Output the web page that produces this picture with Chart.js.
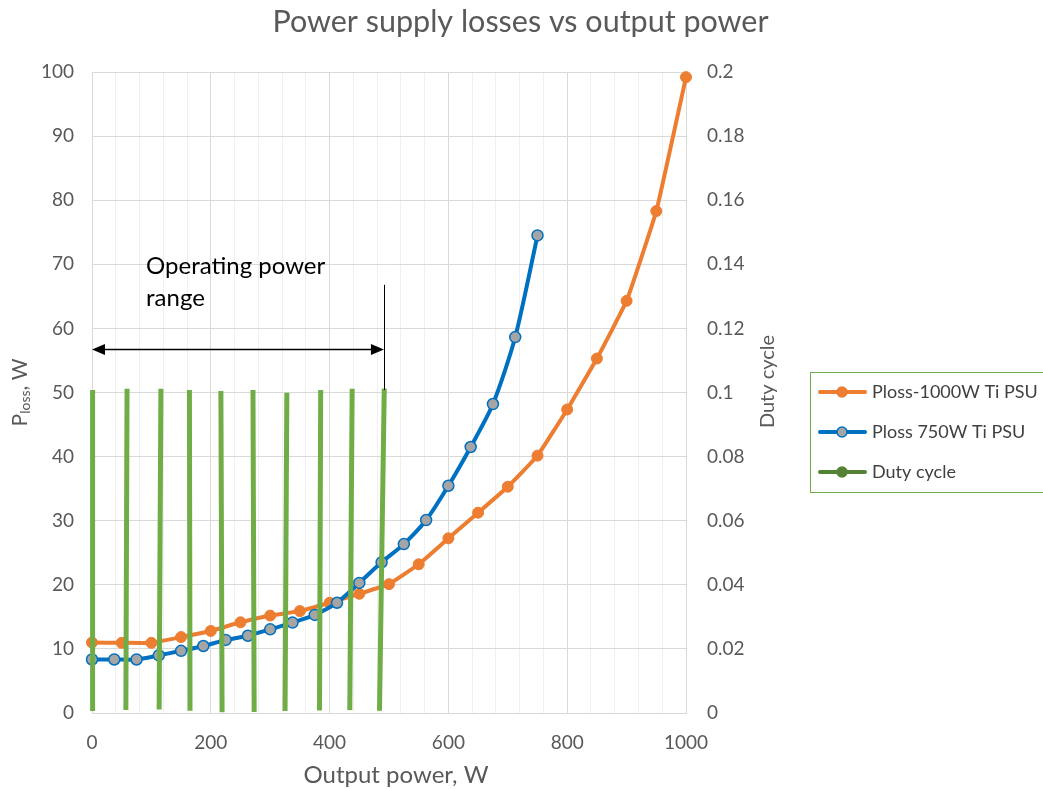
<!DOCTYPE html>
<html>
<head>
<meta charset="utf-8">
<script src="https://cdn.jsdelivr.net/npm/chart.js@4/dist/chart.umd.min.js"></script>
<style>
html,body{margin:0;padding:0;background:#fff;}
canvas{display:block;}
</style>
</head>
<body>
<canvas id="c" width="1043" height="789"></canvas>
<script>
// ---- data ----
const titleText = 'Power supply losses vs output power';
const xTitle = 'Output power, W';
const y2Title = 'Duty cycle';
const seriesNames = ['Ploss-1000W Ti PSU', 'Ploss 750W Ti PSU', 'Duty cycle'];

const psu1000X = [0, 50, 100, 150, 200, 250, 300, 350, 400, 450, 500, 550, 600, 650, 700, 750, 800, 850, 900, 950, 1000];
const psu1000Loss = [11.0, 10.95, 10.95, 11.85, 12.8, 14.15, 15.2, 15.9, 17.2, 18.6, 20.1, 23.2, 27.25, 31.25, 35.3, 40.15, 47.35, 55.3, 64.3, 78.3, 99.2];

const psu750X = [0, 37.5, 75, 112.5, 150, 187.5, 225, 262.5, 300, 337.5, 375, 412.5, 450, 487.5, 525, 562.5, 600, 637.5, 675, 712.5, 750];
const psu750Loss = [8.35, 8.35, 8.35, 9.0, 9.7, 10.45, 11.4, 12.05, 13.05, 14.1, 15.3, 17.2, 20.3, 23.5, 26.35, 30.1, 35.45, 41.5, 48.2, 58.65, 74.5];

const dutyBottomX = [1, 57, 113, 165, 219, 273, 325, 383, 434, 484];
const dutyTopX    = [1, 59, 116, 164, 217, 271, 328, 385, 438, 492];
const dutyBottom  = [0.0006, 0.0009, 0.0011, 0.0007, 0.0002, 0.0003, 0.0006, 0.0008, 0.0009, 0.0007];
const dutyTop     = [0.1008, 0.1012, 0.1012, 0.1008, 0.1005, 0.1008, 0.0999, 0.1008, 0.1012, 0.1012];

const xTicksLabeled = [0, 200, 400, 600, 800, 1000];

// annotation (data units)
const rangeStart = 0, rangeEnd = 491.5, arrowY = 56.8, markerTop = 66.8, markerBottom = 50.4;
const noteLines = ['Operating power', 'range'];
const noteX = 91, noteY = [69.7, 64.7];

// ---- build datasets ----
const FONT = 'Lato, "Open Sans", sans-serif';
const orange = '#ED7D31', blue = '#0070C0', green = '#70AD47';

const d1000 = psu1000X.map((x, i) => ({x, y: psu1000Loss[i]}));
const d750 = psu750X.map((x, i) => ({x, y: psu750Loss[i]}));
const dDuty = [];
dutyTopX.forEach((x, i) => {
  dDuty.push({x: dutyBottomX[i], y: dutyBottom[i]});
  dDuty.push({x: x, y: dutyTop[i]});
  dDuty.push({x: x, y: null});
});

const legendStyles = {
  [seriesNames[0]]: {line: orange, fill: orange, border: orange},
  [seriesNames[1]]: {line: blue, fill: '#A5A5A5', border: blue},
  [seriesNames[2]]: {line: '#548235', fill: '#548235', border: '#548235'}
};

const overlay = {
  id: 'overlay',
  afterDraw(chart) {
    const ctx = chart.ctx, xs = chart.scales.x, ys = chart.scales.y, area = chart.chartArea;
    ctx.save();
    // title
    ctx.fillStyle = '#595959';
    ctx.font = '30.5px ' + FONT; ctx.textAlign = 'center'; ctx.textBaseline = 'middle';
    ctx.fillText(titleText, chart.width / 2 - 1, 22);

    // x axis title
    ctx.font = '24px ' + FONT;
    ctx.fillText(xTitle, (area.left + area.right) / 2 + 7, 775);

    // annotation arrow
    const ax0 = xs.getPixelForValue(rangeStart), ax1 = xs.getPixelForValue(rangeEnd), ay = Math.round(ys.getPixelForValue(arrowY)) + 0.5;
    ctx.strokeStyle = '#000'; ctx.fillStyle = '#000'; ctx.lineWidth = 1.5;
    ctx.beginPath(); ctx.moveTo(ax0 + 10, ay); ctx.lineTo(ax1 - 10, ay); ctx.stroke();
    ctx.beginPath(); ctx.moveTo(ax0, ay); ctx.lineTo(ax0 + 13, ay - 5.5); ctx.lineTo(ax0 + 13, ay + 5.5); ctx.closePath(); ctx.fill();
    ctx.beginPath(); ctx.moveTo(ax1, ay); ctx.lineTo(ax1 - 13, ay - 5.5); ctx.lineTo(ax1 - 13, ay + 5.5); ctx.closePath(); ctx.fill();
    // vertical marker
    ctx.lineWidth = 1;
    const vx = Math.round(ax1) + 0.5;
    ctx.beginPath(); ctx.moveTo(vx, ys.getPixelForValue(markerTop)); ctx.lineTo(vx, ys.getPixelForValue(markerBottom)); ctx.stroke();
    // note text
    ctx.font = '24px ' + FONT; ctx.textAlign = 'left'; ctx.textBaseline = 'middle'; ctx.fillStyle = '#000';
    noteLines.forEach((t, i) => ctx.fillText(t, xs.getPixelForValue(noteX), ys.getPixelForValue(noteY[i])));

    // left axis title with subscript
    ctx.fillStyle = '#595959';
    ctx.translate(20, (area.top + area.bottom) / 2);
    ctx.rotate(-Math.PI / 2);
    ctx.textBaseline = 'middle';
    const big = '21px ' + FONT, small = '14px ' + FONT;
    ctx.font = big; const wP = ctx.measureText('P').width, wT = ctx.measureText(', W').width;
    ctx.font = small; const wS = ctx.measureText('loss').width;
    let sx = -(wP + wS + wT) / 2;
    ctx.textAlign = 'left';
    ctx.font = big; ctx.fillText('P', sx, 0); sx += wP;
    ctx.font = small; ctx.fillText('loss', sx, 5); sx += wS;
    ctx.font = big; ctx.fillText(', W', sx, 0);
    ctx.setTransform(1, 0, 0, 1, 0, 0);

    // right axis title
    ctx.translate(768, (area.top + area.bottom) / 2 - 11);
    ctx.rotate(-Math.PI / 2);
    ctx.font = '20px ' + FONT; ctx.textAlign = 'center';
    ctx.fillText(y2Title, 0, 0);
    ctx.setTransform(1, 0, 0, 1, 0, 0);

    // legend
    const lx = 810.5, ly = 372.5, lw = 260, lh = 120;
    ctx.strokeStyle = green; ctx.lineWidth = 1;
    ctx.strokeRect(lx, ly, lw, lh);
    seriesNames.forEach((name, i) => {
      const y = 392 + i * 40;
      const c = legendStyles[name];
      ctx.strokeStyle = c.line; ctx.lineWidth = 4; ctx.lineCap = 'round';
      ctx.beginPath(); ctx.moveTo(820, y); ctx.lineTo(865, y); ctx.stroke();
      ctx.beginPath(); ctx.arc(842, y, 5, 0, Math.PI * 2);
      ctx.fillStyle = c.fill; ctx.fill();
      ctx.lineWidth = 1.5; ctx.strokeStyle = c.border; ctx.stroke();
      ctx.fillStyle = '#404040'; ctx.font = '18px ' + FONT; ctx.textAlign = 'left'; ctx.textBaseline = 'middle';
      ctx.fillText(name, 872, y);
    });
    ctx.restore();
  }
};

new Chart(document.getElementById('c'), {
  type: 'line',
  data: {
    datasets: [
      {label: seriesNames[2], data: dDuty, yAxisID: 'y2', borderColor: green, borderWidth: 5, pointRadius: 0, spanGaps: false, order: 0, borderCapStyle: 'butt', clip: false},
      {label: seriesNames[1], data: d750, yAxisID: 'y', borderColor: blue, borderWidth: 4, pointRadius: 5.5, pointBackgroundColor: '#A5A5A5', pointBorderColor: blue, pointBorderWidth: 1.5, tension: 0.25, order: 1, clip: false},
      {label: seriesNames[0], data: d1000, yAxisID: 'y', borderColor: orange, borderWidth: 4, pointRadius: 5.5, pointBackgroundColor: orange, pointBorderColor: orange, pointBorderWidth: 1, tension: 0.1, order: 2, clip: false}
    ]
  },
  options: {
    responsive: false,
    animation: false,
    events: [],
    layout: {padding: {left: 0, right: 257, top: 72, bottom: 0}},
    plugins: {
      legend: {display: false},
      tooltip: {enabled: false},
      title: {display: false}
    },
    scales: {
      x: {
        type: 'linear', position: 'bottom', min: 0, max: 1000,
        afterFit: s => { s.height = 76; },
        afterBuildTicks: s => { s.ticks = []; for (let v = 0; v <= 1000; v += 40) s.ticks.push({value: v}); xTicksLabeled.forEach(v => { if (!s.ticks.find(t => t.value === v)) s.ticks.push({value: v}); }); s.ticks.sort((a, b) => a.value - b.value); },
        ticks: {autoSkip: false, maxRotation: 0, padding: 18, color: '#595959', font: {family: FONT, size: 19},
          callback: v => xTicksLabeled.includes(v) ? String(v) : ''},
        grid: {drawTicks: false, color: c => xTicksLabeled.includes(c.tick.value) ? '#d9d9d9' : '#f0f0f0'},
        border: {color: '#d9d9d9'},
        title: {display: false}
      },
      y: {
        type: 'linear', position: 'left', min: 0, max: 100,
        afterFit: s => { s.width = 92; },
        ticks: {stepSize: 10, padding: 18, color: '#595959', font: {family: FONT, size: 19}},
        grid: {drawTicks: false, color: '#d9d9d9'},
        border: {color: '#d9d9d9'}
      },
      y2: {
        type: 'linear', position: 'right', min: 0, max: 0.2,
        afterFit: s => { s.width = 100; },
        ticks: {stepSize: 0.02, padding: 21, color: '#595959', font: {family: FONT, size: 19},
          callback: v => String(+v.toFixed(2))},
        grid: {drawOnChartArea: false, drawTicks: false},
        border: {color: '#d9d9d9'}
      }
    }
  },
  plugins: [overlay]
});
</script>
</body>
</html>
